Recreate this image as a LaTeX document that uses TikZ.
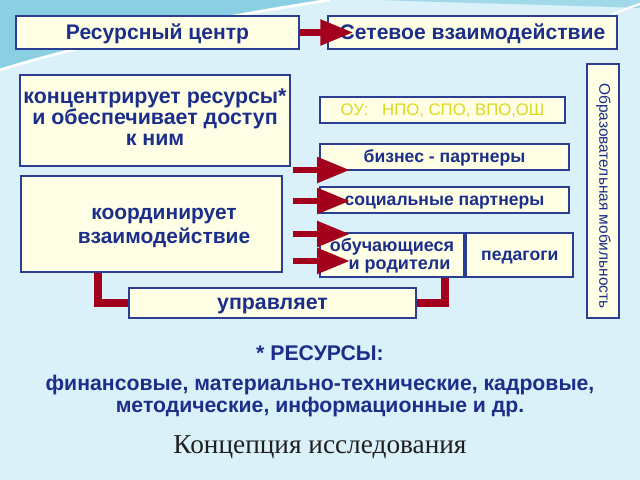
\documentclass[tikz,border=0pt]{standalone}
\usepackage{fontspec}
\setmainfont{Liberation Sans}
\newfontfamily\titlefont{Liberation Serif}
\usetikzlibrary{arrows.meta,positioning,calc}

\definecolor{bgblue}{HTML}{DAF1FA}
\definecolor{topteal}{HTML}{8ACFE2}
\definecolor{boxfill}{HTML}{FFFFE6}
\definecolor{boxline}{HTML}{2B3F92}
\definecolor{txtblue}{HTML}{1B2E8A}
\definecolor{darkred}{HTML}{A3001E}
\definecolor{ouyellow}{HTML}{DCD820}

\begin{document}
\begin{tikzpicture}[x=0.025cm, y=-0.025cm]

    % Set the canvas size (pixel units, y downwards)
    \useasboundingbox (0,0) rectangle (640,480);
    \fill[bgblue] (0,0) rectangle (640,480);

    % Decorative swooshes at the top
    \fill[topteal] (0,0) -- (330,0) .. controls (200,20) and (80,45) .. (0,70) -- cycle;
    \draw[white, line width=2pt] (330,0) .. controls (200,20) and (80,45) .. (0,70);
    \fill[topteal!70!bgblue] (380,0) -- (640,0) -- (640,8) .. controls (560,5) and (460,3) .. (380,0);
    \draw[white, line width=1.5pt] (560,40) .. controls (590,25) and (615,12) .. (640,4);

    % Define styles
    \tikzset{
        box/.style={draw=boxline, line width=1.6pt, fill=boxfill, text=txtblue,
            font=\bfseries\fontsize{12.5}{15}\selectfont, inner sep=0pt,
            text height=7.5pt, text depth=0pt},
        boxtext/.style={text=txtblue, inner sep=0pt, align=center},
        redarrow/.style={darkred, line width=0.15cm,
            -{Triangle[length=0.82cm, width=0.62cm]}},
        redline/.style={darkred, line width=0.2cm},
    }

    % Top row
    \node[box, minimum width=7.075cm, minimum height=0.825cm, text height=9.5pt,
        font=\bfseries\fontsize{15}{16}\selectfont] (rc) at (157.5,32.5) {Ресурсный центр};
    \node[box, minimum width=7.225cm, minimum height=0.825cm, text height=9.5pt,
        font=\bfseries\fontsize{15}{16}\selectfont] (net) at (472.5,32.5) {Сетевое взаимодействие};

    % Left column
    \node[box, minimum width=6.75cm, minimum height=2.275cm] (conc) at (155,120.5) {};
    \node[boxtext, font=\bfseries\fontsize{15.2}{15}\selectfont] (conctxt) at (155,117)
        {концентрирует ресурсы*\\и обеспечивает доступ\\к ним};
    \node[box, minimum width=6.525cm, minimum height=2.4cm] (coord) at (151.5,224) {};
    \node[boxtext, font=\bfseries\fontsize{14.9}{17}\selectfont] (coordtxt) at (164,227.5)
        {координирует\\взаимодействие};
    \node[box, minimum width=7.175cm, minimum height=0.75cm, text height=9pt,
        font=\bfseries\fontsize{15.2}{16}\selectfont] (upr) at (272.5,303) {управляет};

    % Partners column
    \node[box, minimum width=6.125cm, minimum height=0.65cm, text=ouyellow, text height=8.5pt,
        font=\fontsize{11.9}{13}\selectfont] (ou) at (442.5,110) {ОУ:\ \ \ НПО, СПО, ВПО,ОШ};
    \node[box, minimum width=6.225cm, minimum height=0.65cm] (biz) at (444.5,157) {бизнес - партнеры};
    \node[box, minimum width=6.225cm, minimum height=0.65cm] (soc) at (444.5,200) {социальные партнеры};
    \node[box, minimum width=3.6cm, minimum height=1.1cm] (stud) at (392,255) {};
    \node[boxtext, font=\bfseries\fontsize{12.8}{12.8}\selectfont] (studtxt) at (392,256)
        {обучающиеся\\\ \ \ и родители};
    \node[box, minimum width=2.675cm, minimum height=1.1cm, right=0pt of stud] (ped) {педагоги};

    % Vertical box
    \node[box, rotate=-90, minimum width=6.35cm, minimum height=0.8cm] (mob) at (603,191) {};
    \node[rotate=-90, text=txtblue, font=\fontsize{11}{13}\selectfont, inner sep=0pt]
        (mobtxt) at (603.5,196) {Образовательная мобильность};

    % Red arrows
    \draw[redarrow] (rc.east) -- ($(rc.east)+(53,0)$);
    \foreach \name/\y in {a1/170, a2/201, a3/234, a4/261} {
        \coordinate (\name) at (293,\y);
        \draw[redarrow] (\name) -- ($(\name -| biz.west)+(31,0)$);
    }

    % Elbow connectors to "управляет"
    \coordinate (c1) at (coord.south -| 98,0);
    \coordinate (c2) at (stud.south -| 445,0);
    \draw[redline] (c1) |- (upr.west);
    \draw[redline] (c2) |- (upr.east);

    % Footnote on resources
    \node[text=txtblue, font=\bfseries\fontsize{15.1}{15.6}\selectfont, align=center]
        (res) at (320,381) {* РЕСУРСЫ:\\[5.5pt]финансовые, материально-технические, кадровые,\\методические, информационные и др.};

    % Title
    \node[text=black!88, font=\titlefont\fontsize{19.4}{22}\selectfont] (title) at (320,447) {Концепция исследования};

\end{tikzpicture}
\end{document}
